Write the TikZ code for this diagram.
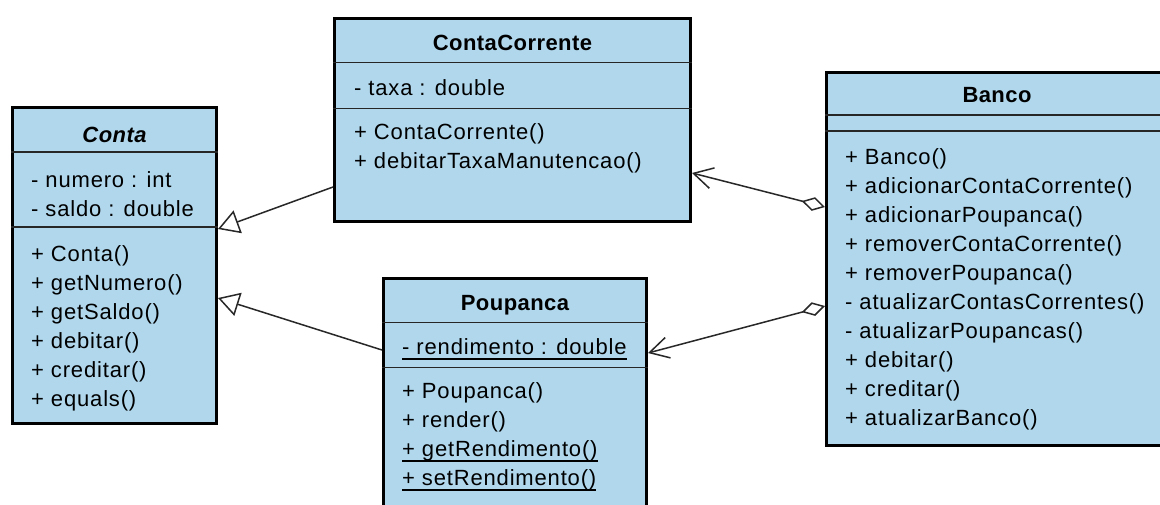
\documentclass[tikz,border=0pt]{standalone}
\usepackage{fontspec}
\setmainfont{Liberation Sans}
\newfontfamily\memberfont[LetterSpace=3.8]{Liberation Sans}
\newfontfamily\titlefont[LetterSpace=2.0]{Liberation Sans}
\usetikzlibrary{arrows.meta}
\definecolor{classfill}{RGB}{176,215,236}
\definecolor{edgegray}{RGB}{40,40,40}
% underline used for static (class-scope) members
\newcommand\staticmember[1]{\setbox0\hbox{#1}\rlap{\vrule height -3.5pt depth 5pt width \wd0}\box0}

\begin{document}
\begin{tikzpicture}[x=1pt,y=-1pt,
  classbox/.style={draw=black, fill=classfill, line width=3pt, outer sep=1.5pt,
    inner sep=0pt, anchor=north west},
  openbox/.style={fill=classfill, inner sep=0pt, outer sep=1.5pt, anchor=north west},
  frame/.style={draw=black, line width=3pt},
  divider/.style={line width=1.5pt, draw=black!85},
  member/.style={anchor=base west, inner sep=0pt, font=\memberfont\fontsize{22}{27}\selectfont},
  classtitle/.style={anchor=base, inner sep=0pt, font=\titlefont\fontsize{22}{27}\selectfont\bfseries},
  generalization/.style={line width=1.5pt, draw=edgegray,
    -{Triangle[open,length=21pt,width=24pt]}},
  aggregation/.style={line width=1.5pt, draw=edgegray,
    {Diamond[open,length=24pt,width=14pt]}-{Straight Barb[length=19pt,width=21pt]}}]

% the page is cut to this frame; Banco and Poupanca run past it
\useasboundingbox (0,0) rectangle (1160,504);
\fill[white] (-20,-20) rectangle (1200,540);

% ---- class boxes ----
\node[classbox, minimum width=204pt, minimum height=316.5pt] (conta) at (11,105.5) {};
\node[classbox, minimum width=356pt, minimum height=203pt] (cc) at (333,17) {};
% Poupanca: left, top and right sides only (its bottom lies below the page)
\node[openbox, minimum width=263pt, minimum height=260pt] (poup) at (382,277) {};
\draw[frame] ([xshift=1.5pt]poup.south west) |- ([xshift=-1.5pt,yshift=-1.5pt]poup.north east)
  -- ([xshift=-1.5pt]poup.south east);
% Banco: left, top and bottom sides only (its right side lies past the page)
\node[openbox, minimum width=400pt, minimum height=373pt] (banco) at (825,71) {};
\draw[frame] ([yshift=-1.5pt]banco.north east) -| ([xshift=1.5pt]banco.west)
  |- ([yshift=1.5pt]banco.south east);

% ---- compartment dividers ----
\draw[divider] (conta.west |- 0,152) -- (conta.east |- 0,152);
\draw[divider] (conta.west |- 0,227) -- (conta.east |- 0,227);
\draw[divider] (cc.west |- 0,62.3) -- (cc.east |- 0,62.3);
\draw[divider] (cc.west |- 0,108.3) -- (cc.east |- 0,108.3);
\draw[divider] (poup.west |- 0,322.3) -- (poup.east |- 0,322.3);
\draw[divider] (poup.west |- 0,367.3) -- (poup.east |- 0,367.3);
\draw[divider] (banco.west |- 0,115) -- (1160,115);
\draw[divider] (banco.west |- 0,131) -- (1160,131);

% ---- Conta ----
\node[classtitle, font=\titlefont\fontsize{22}{27}\selectfont\bfseries\itshape] (conta-t) at (conta.north |- 0,142) {Conta};
\node[member] (conta-a1) at (31,187) {- numero : int};
\node[member] (conta-a2) at (31,216) {- saldo : double};
\foreach \t [count=\i] in {{+ Conta()},{+ getNumero()},{+ getSaldo()},{+ debitar()},{+ creditar()},{+ equals()}}
  \node[member] (conta-m\i) at (31,232+29*\i) {\t};

% ---- ContaCorrente ----
\node[classtitle] (cc-t) at (cc.north |- 0,50) {ContaCorrente};
\node[member] (cc-a1) at (354,95) {- taxa : double};
\node[member] (cc-m1) at (354,139.5) {+ ContaCorrente()};
\node[member] (cc-m2) at (354,168.5) {+ debitarTaxaManutencao()};

% ---- Poupanca ----
\node[classtitle] (poup-t) at (poup.north |- 0,310) {Poupanca};
\node[member] (poup-a1) at (402,354.5) {\staticmember{- rendimento : double}};
\node[member] (poup-m1) at (402,398.5) {+ Poupanca()};
\node[member] (poup-m2) at (402,427.5) {+ render()};
\node[member] (poup-m3) at (402,456.5) {\staticmember{+ getRendimento()}};
\node[member] (poup-m4) at (402,485.5) {\staticmember{+ setRendimento()}};

% ---- Banco ----
\node[classtitle] (banco-t) at (997,102.5) {Banco};
\foreach \t [count=\i] in {{+ Banco()},{+ adicionarContaCorrente()},{+ adicionarPoupanca()},
    {+ removerContaCorrente()},{+ removerPoupanca()},{- atualizarContasCorrentes()},
    {- atualizarPoupancas()},{+ debitar()},{+ creditar()},{+ atualizarBanco()}}
  \node[member] (banco-m\i) at (845,135+29*\i) {\t};

% ---- relationships ----
\draw[generalization] (cc.west |- 0,187) -- (conta.east |- 0,229);
\draw[generalization] (poup.west |- 0,350) -- (conta.east |- 0,298);
\draw[aggregation] (banco.west |- 0,207) -- (cc.east |- 0,173);
\draw[aggregation] (banco.west |- 0,306) -- (poup.east |- 0,353);
\end{tikzpicture}
\end{document}
